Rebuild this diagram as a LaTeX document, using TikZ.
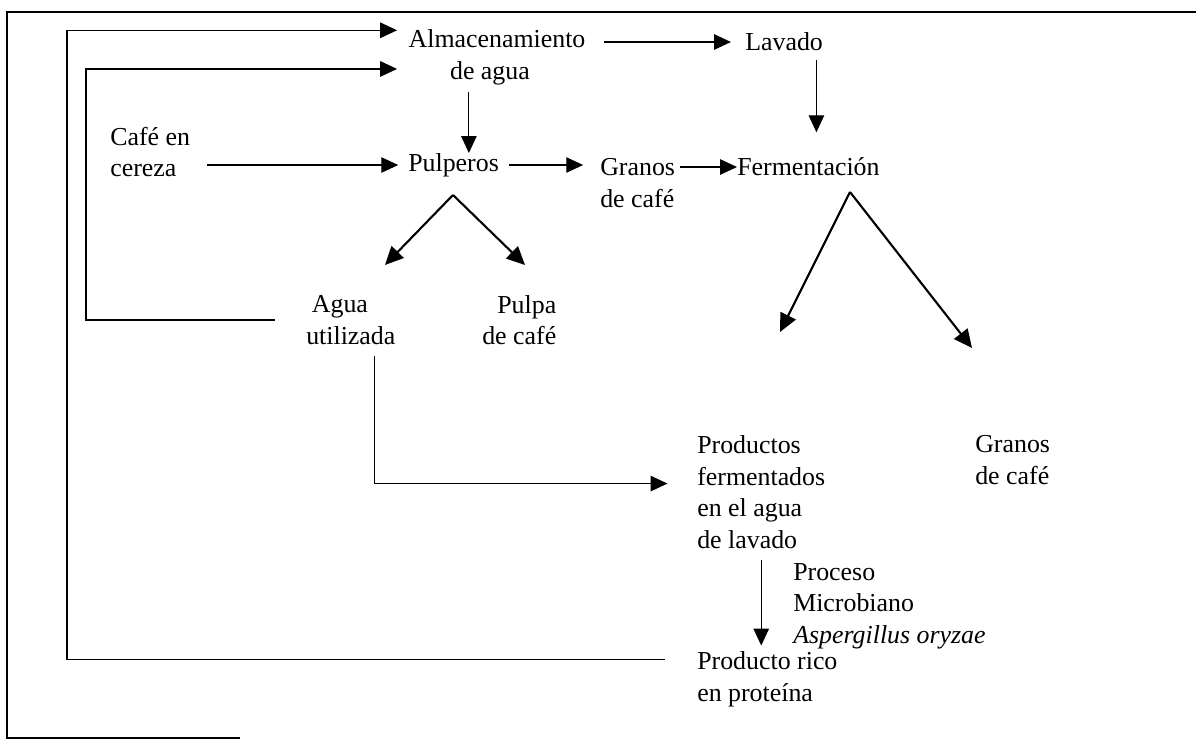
\documentclass[tikz,border=0pt]{standalone}
\usepackage{fontspec}
\setmainfont{Liberation Serif}
\usetikzlibrary{arrows.meta, positioning}

\begin{document}
\begin{tikzpicture}[
    x=0.025cm, y=-0.025cm,
    lbl/.style={anchor=west,inner sep=0pt,align=left,font=\fontsize{18.4}{22.5}\selectfont},
    arrow/.style={-{Triangle[length=12pt,width=11pt]}, line width=0.8pt},
    bigarrow/.style={-{Triangle[length=13pt,width=12pt]}, line width=1.5pt},
    line/.style={line width=0.8pt}
]
\useasboundingbox (0,0) rectangle (1196,744);

% frame
\draw[line] (1196,12) -- (7,12) -- (7,738) -- (240,738);

\node[lbl,anchor=center,align=center] (alm) at (497,57) {Almacenamiento\\de agua\hspace*{10pt}};
\node[lbl] (lavado) at (745,42) {Lavado};
\node[lbl] (cafe) at (110,152) {Café en\\cereza};
\node[lbl] (pulperos) at (408,165) {Pulperos};
\node[lbl] (granos1) at (600,183) {Granos\\de café};
\node[lbl] (ferm) at (737,167) {Fermentación};
\node[lbl] (agua) at (306,320) {\hspace*{4pt}Agua\\utilizada};
\node[lbl,align=right] (pulpa) at (482,320) {Pulpa\\de café};
\node[lbl] (prodf) at (697,492) {Productos\\fermentados\\en el agua\\de lavado};
\node[lbl] (granos2) at (975,460) {Granos\\de café};
\node[lbl] (proceso) at (793,606) {Proceso\\Microbiano\\\textit{Aspergillus oryzae}};
\node[lbl] (prot) at (697,679) {Producto rico\\en proteína};

\coordinate (outer) at (67,30);
\coordinate (inner) at (86,69);
\coordinate (pv) at (453,195);
\coordinate (pvL) at (385,265);
\coordinate (pvR) at (525,265);
\coordinate (fv) at (850,192);
\coordinate (fvL) at (780,332);
\coordinate (fvR) at (972,348);

\draw[arrow,shorten <=13pt,shorten >=10pt] (alm.east |- lavado.west) -- (lavado.west);
\draw[arrow,shorten <=5pt] ([xshift=-20pt]alm.south) -- ([xshift=-20pt]alm.south |- pulperos.north);
\draw[arrow,shorten <=6pt,shorten >=18pt] ([xshift=23pt]lavado.south) -- ([xshift=23pt]lavado.south |- ferm.north);
\draw[arrow,shorten <=12pt,shorten >=7pt] (cafe.east |- pulperos.west) -- (pulperos.west);
\draw[arrow,shorten <=7pt,shorten >=12pt] (pulperos.east) -- (pulperos.east -| granos1.west);
\draw[arrow,shorten <=3pt] (granos1.east |- ferm.west) -- (ferm.west);

\draw[bigarrow] (pv) -- (pvL);
\draw[bigarrow] (pv) -- (pvR);
\draw[bigarrow] (fv) -- (fvL);
\draw[bigarrow] (fv) -- (fvR);

\draw[arrow,shorten >=21pt] ([xshift=17pt,yshift=-8pt]agua.south) |- ([yshift=6pt]prodf.west);
\draw[arrow,shorten <=8pt,shorten >=4pt] (prodf.south) -- (prodf.south |- prot.north);

\draw[arrow,shorten <=22pt,shorten >=8pt] (agua.west) -| (inner) |- ([yshift=-8.5pt]alm.west);
\draw[arrow,shorten <=23pt,shorten >=8pt] ([yshift=14pt]prot.west) -| (outer) |- ([yshift=19pt]alm.west);

\end{tikzpicture}
\end{document}
